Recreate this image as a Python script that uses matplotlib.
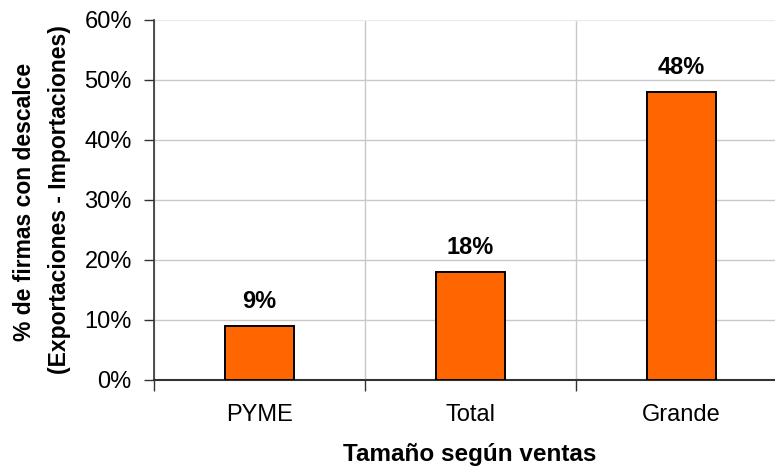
import matplotlib
matplotlib.use('Agg')
import matplotlib.pyplot as plt
from matplotlib.ticker import PercentFormatter, FixedLocator

categorias = ['PYME', 'Total', 'Grande']
porcentajes = [9, 18, 48]
etiquetas = ['9%', '18%', '48%']

plt.rcParams['font.family'] = ['Liberation Sans', 'DejaVu Sans']

fig = plt.figure(figsize=(7.75, 4.68), dpi=100)
# plot area runs slightly past the right edge, as in the original
ax = fig.add_axes([154 / 775, 1 - 380 / 468, 633 / 775, 360 / 468])

x = list(range(len(categorias)))
ax.bar(x, porcentajes, width=0.33, color='#FF6600', edgecolor='black', linewidth=1.4, zorder=3)
for xi, v, lab in zip(x, porcentajes, etiquetas):
    ax.annotate(lab, (xi, v), xytext=(0, 9), textcoords='offset points',
                ha='center', va='bottom', fontsize=17, fontweight='bold')

ax.set_xlim(-0.5, len(categorias) - 0.5)
ax.set_ylim(0, 60)
ax.set_yticks(range(0, 61, 10))
ax.yaxis.set_major_formatter(PercentFormatter(decimals=0))
ax.set_xticks(x)
ax.set_xticklabels(categorias)
ax.xaxis.set_minor_locator(FixedLocator([-0.5, 0.5, 1.5]))
ax.tick_params(axis='x', which='major', length=0, pad=17, labelsize=17)
ax.tick_params(axis='x', which='minor', length=8, width=1, color='#333333')
ax.tick_params(axis='y', length=7, width=1, color='#333333', labelsize=17, pad=9)

ax.grid(axis='y', color='#c8c8c8', linewidth=1, zorder=0)
ax.grid(axis='x', which='minor', color='#c8c8c8', linewidth=1, zorder=0)
ax.grid(axis='x', which='major', visible=False)
# top gridline is much fainter in the original
ax.get_ygridlines()[-1].set_color('#ececec')
for s in ['top', 'right']:
    ax.spines[s].set_visible(False)
ax.spines['left'].set_color('#333333')
ax.spines['bottom'].set_color('#333333')
ax.spines['left'].set_linewidth(1.2)
ax.spines['bottom'].set_linewidth(1.5)

fig.text(25 / 775, 1 - 202 / 468, '% de firmas con descalce', rotation=90,
         ha='center', va='center', fontsize=16.5, fontweight='bold')
fig.text(60 / 775, 1 - 200 / 468, '(Exportaciones - Importaciones)', rotation=90,
         ha='center', va='center', fontsize=16.5, fontweight='bold')
fig.text(470 / 775, 1 - 455 / 468, 'Tamaño según ventas', ha='center', va='center',
         fontsize=17.5, fontweight='bold')

fig.savefig('out.png', dpi=100)
